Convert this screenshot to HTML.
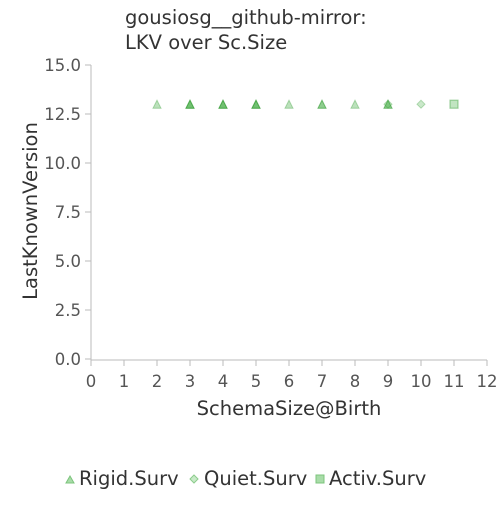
<!DOCTYPE html>
<html><head><meta charset="utf-8"><style>
body{margin:0;background:#fff;}
svg text{font-family:"DejaVu Sans","Liberation Sans",sans-serif;}
</style></head><body>
<svg id="chart" width="500" height="500" viewBox="0 0 500 500">
<text x="125" y="24" font-size="19.5" fill="#333">gousiosg__github-mirror:</text>
<text x="125" y="49" font-size="19.5" fill="#333">LKV over Sc.Size</text>
<g id="axes"></g>
<g id="marks"></g>
<text x="289" y="415" font-size="19.5" fill="#333" text-anchor="middle">SchemaSize@Birth</text>
<text transform="translate(37,211) rotate(-90)" font-size="19.5" fill="#333" text-anchor="middle">LastKnownVersion</text>
<g>
<g><polygon points="66,483 70,476 74,483" fill="#a8dca8" stroke="#7cc47c" stroke-width="1"/><text x="79" y="485" font-size="19.5" fill="#333">Rigid.Surv</text></g>
<g><polygon points="194,475 198,479 194,483 190,479" fill="#c8eac8" stroke="#8ccc8c" stroke-width="1"/><text x="204" y="485" font-size="19.5" fill="#333">Quiet.Surv</text></g>
<g><rect x="316" y="475" width="8" height="8" fill="#a8dca8" stroke="#7cc47c"/><text x="329" y="485" font-size="19.5" fill="#333">Activ.Surv</text></g>
</g>
</svg>
<script>
const xTicks=[0,1,2,3,4,5,6,7,8,9,10,11,12];
const yTicks=[0,2.5,5,7.5,10,12.5,15];
const yTickLabels=["0.0","2.5","5.0","7.5","10.0","12.5","15.0"];
const rigidX=[2,3,3,3,4,4,4,5,5,5,6,7,7,8,9,9];
const rigidY=[13,13,13,13,13,13,13,13,13,13,13,13,13,13,13,13];
const quietX=[9,10];
const quietY=[13,13];
const activX=[11];
const activY=[13];
const NS="http://www.w3.org/2000/svg";
const xs=v=>91+v*33, ys=v=>359-v*19.6;
const axes=document.getElementById('axes'), marks=document.getElementById('marks');
function mk(tag,attrs,parent){const e=document.createElementNS(NS,tag);for(const k in attrs)e.setAttribute(k,attrs[k]);parent.appendChild(e);return e;}
let l=mk('line',{x1:91,y1:360,x2:487,y2:360,stroke:'#bbb'},axes);


l=mk('line',{x1:91,y1:65,x2:91,y2:360,stroke:'#bbb'},axes);


xTicks.forEach(t=>{
 const tk=mk('line',{x1:xs(t),y1:360,x2:xs(t),y2:366,stroke:'#bbb'},axes);
 
 
 const tx=mk('text',{x:xs(t),y:387,'font-size':16.5,fill:'#555','text-anchor':'middle'},axes);
 tx.textContent=t;
 
 
});
yTicks.forEach((t,i)=>{
 const tk=mk('line',{x1:85,y1:ys(t),x2:91,y2:ys(t),stroke:'#bbb'},axes);
 
 
 const tx=mk('text',{x:81,y:ys(t)+6,'font-size':16.5,fill:'#555','text-anchor':'end'},axes);
 tx.textContent=yTickLabels[i];
 
 
});
rigidX.forEach((x,i)=>{
 const cx=xs(x),cy=ys(rigidY[i]);
 const p=mk('polygon',{points:`${cx-4},${cy+4} ${cx},${cy-4} ${cx+4},${cy+4}`,fill:'rgba(60,170,60,0.35)',stroke:'rgba(40,150,40,0.35)','stroke-width':1},marks);
 
 
});
quietX.forEach((x,i)=>{
 const cx=xs(x),cy=ys(quietY[i]);
 const p=mk('polygon',{points:`${cx},${cy-4} ${cx+4},${cy} ${cx},${cy+4} ${cx-4},${cy}`,fill:'rgba(80,180,80,0.3)',stroke:'rgba(60,160,60,0.35)','stroke-width':1},marks);
 
 
});
activX.forEach((x,i)=>{
 const cx=xs(x),cy=ys(activY[i]);
 const p=mk('rect',{x:cx-4,y:cy-4,width:8,height:8,fill:'rgba(80,180,80,0.35)',stroke:'rgba(60,160,60,0.45)','stroke-width':1.2},marks);
 
 
});
</script>
</body></html>
